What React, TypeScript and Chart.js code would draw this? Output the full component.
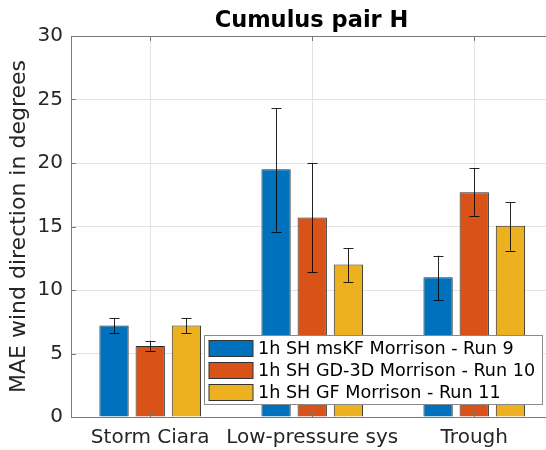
import React, { useEffect, useRef } from "react";
import { Chart, registerables } from "chart.js";

Chart.register(...registerables);

const categories = ["Storm Ciara", "Low-pressure sys", "Trough"];
const seriesLabels = [
  "1h SH msKF Morrison - Run 9",
  "1h SH GD-3D Morrison - Run 10",
  "1h SH GF Morrison - Run 11",
];
const run9 = [7.2, 19.5, 11.0];
const run9Low = [6.6, 14.6, 9.2];
const run9High = [7.8, 24.3, 12.7];
const run10 = [5.6, 15.7, 17.7];
const run10Low = [5.2, 11.4, 15.85];
const run10High = [6.0, 20.0, 19.6];
const run11 = [7.2, 12.0, 15.05];
const run11Low = [6.6, 10.6, 13.1];
const run11High = [7.8, 13.3, 16.9];
const colors = ["#0072BD", "#D95319", "#EDB120"];
const yTicks = [0, 5, 10, 15, 20, 25, 30];

const FONT = "'DejaVu Sans', sans-serif";

const errorBarPlugin = {
  id: "errorBars",
  afterDatasetsDraw(chart: any) {
    const ctx = chart.ctx;
    const y = chart.scales.y;
    ctx.save();
    ctx.strokeStyle = "rgba(0,0,0,0.85)";
    ctx.lineWidth = 1;
    chart.data.datasets.forEach((ds: any, di: number) => {
      const meta = chart.getDatasetMeta(di);
      meta.data.forEach((bar: any, i: number) => {
        const x = Math.round(bar.x) + 0.5;
        const yl = y.getPixelForValue(ds.errLow[i]);
        const yh = y.getPixelForValue(ds.errHigh[i]);
        ctx.beginPath();
        ctx.moveTo(x, yl);
        ctx.lineTo(x, yh);
        ctx.moveTo(x - 5, Math.round(yl) + 0.5);
        ctx.lineTo(x + 5, Math.round(yl) + 0.5);
        ctx.moveTo(x - 5, Math.round(yh) + 0.5);
        ctx.lineTo(x + 5, Math.round(yh) + 0.5);
        ctx.stroke();
      });
    });
    ctx.restore();
  },
};

const framePlugin = {
  id: "frame",
  afterDatasetsDraw(chart: any) {
    const ctx = chart.ctx;
    const ca = chart.chartArea;
    const xs = chart.scales.x;
    const ys = chart.scales.y;
    ctx.save();
    ctx.strokeStyle = "#7a7a7a";
    ctx.lineWidth = 1;
    ctx.beginPath();
    ctx.moveTo(ca.left, Math.round(ca.top) + 0.5);
    ctx.lineTo(ca.right, Math.round(ca.top) + 0.5);
    xs.ticks.forEach((t: any) => {
      const px = Math.round(xs.getPixelForValue(t.value)) + 0.5;
      ctx.moveTo(px, ca.bottom);
      ctx.lineTo(px, ca.bottom - 5);
      ctx.moveTo(px, ca.top);
      ctx.lineTo(px, ca.top + 5);
    });
    ys.ticks.forEach((t: any) => {
      const py = Math.round(ys.getPixelForValue(t.value)) + 0.5;
      ctx.moveTo(ca.left, py);
      ctx.lineTo(ca.left + 5, py);
    });
    ctx.stroke();
    ctx.restore();
  },
};

const legendPlugin = {
  id: "customLegend",
  afterDraw(chart: any) {
    const ctx = chart.ctx;
    const ca = chart.chartArea;
    ctx.save();
    ctx.font = `17.6px ${FONT}`;
    const dsets = chart.data.datasets;
    let maxW = 0;
    dsets.forEach((d: any) => {
      maxW = Math.max(maxW, ctx.measureText(d.label).width);
    });
    const left = Math.round(ca.left + 132.5) + 0.5;
    const top = Math.round(ca.bottom - 82) + 0.5;
    const w = Math.round(53.5 + maxW + 7);
    const h = 69;
    ctx.fillStyle = "#ffffff";
    ctx.fillRect(left, top, w, h);
    ctx.strokeStyle = "#8a8a8a";
    ctx.lineWidth = 1;
    ctx.strokeRect(left, top, w, h);
    dsets.forEach((d: any, i: number) => {
      const sy = top + 5 + i * 22;
      ctx.fillStyle = d.backgroundColor;
      ctx.fillRect(left + 4.5, sy, 44, 16);
      ctx.strokeStyle = "#333333";
      ctx.strokeRect(left + 4.5, sy, 44, 16);
      ctx.fillStyle = "#000000";
      ctx.textAlign = "left";
      ctx.textBaseline = "middle";
      ctx.fillText(d.label, left + 53.5, sy + 8.5);
    });
    ctx.restore();
  },
};

export default function App() {
  const ref = useRef<HTMLCanvasElement | null>(null);
  useEffect(() => {
    if (!ref.current) return;
    Chart.defaults.font.family = FONT;
    const series = [
      [run9, run9Low, run9High],
      [run10, run10Low, run10High],
      [run11, run11Low, run11High],
    ];
    const chart = new Chart(ref.current, {
      type: "bar",
      data: {
        datasets: series.map((s, k) => ({
          label: seriesLabels[k],
          data: s[0].map((v, i) => ({ x: i + 1, y: v })),
          errLow: s[1],
          errHigh: s[2],
          backgroundColor: colors[k],
          borderColor: "rgba(20,20,20,0.9)",
          borderWidth: 1,
          categoryPercentage: 0.67,
          barPercentage: 0.81,
        })) as any,
      },
      options: {
        responsive: false,
        animation: false,
        devicePixelRatio: 1,
        layout: { padding: 0 },
        plugins: {
          legend: { display: false },
          tooltip: { enabled: false },
          title: {
            display: true,
            text: "Cumulus pair H",
            color: "#000000",
            font: { family: FONT, size: 22.5, weight: "bold" },
            padding: { top: 8, bottom: 1 },
          },
        },
        scales: {
          x: {
            type: "linear",
            offset: false,
            min: 0.511,
            max: 3.918,
            bounds: "data",
            afterBuildTicks: (s: any) => {
              s.ticks = categories.map((_, i) => ({ value: i + 1 }));
            },
            afterFit: (s: any) => {
              s.height = 33;
            },
            ticks: {
              autoSkip: false,
              maxRotation: 0,
              padding: 9,
              color: "#262626",
              font: { family: FONT, size: 20 },
              callback: (v: any) => categories[Math.round(v) - 1] ?? "",
            },
            grid: { color: "#e3e3e3", lineWidth: 1, drawTicks: false, offset: false },
            border: { display: true, color: "#7a7a7a", width: 1 },
          },
          y: {
            type: "linear",
            min: yTicks[0],
            max: yTicks[yTicks.length - 1],
            afterBuildTicks: (s: any) => {
              s.ticks = yTicks.map((v) => ({ value: v }));
            },
            afterFit: (s: any) => {
              s.width = 71;
            },
            ticks: {
              padding: 8,
              color: "#262626",
              font: { family: FONT, size: 20 },
            },
            title: {
              display: true,
              text: "MAE wind direction in degrees",
              color: "#262626",
              font: { family: FONT, size: 22 },
              padding: { top: 6, bottom: 0 },
            },
            grid: { color: "#e3e3e3", lineWidth: 1, drawTicks: false },
            border: { display: true, color: "#7a7a7a", width: 1 },
          },
        },
      } as any,
      plugins: [errorBarPlugin, framePlugin, legendPlugin],
    });
    return () => chart.destroy();
  }, []);
  return (
    <div
      style={{
        position: "absolute",
        left: 0,
        top: 0,
        width: 546,
        height: 450,
        overflow: "hidden",
        background: "#ffffff",
      }}
    >
      <canvas ref={ref} width={623} height={450} style={{ display: "block" }} />
    </div>
  );
}
